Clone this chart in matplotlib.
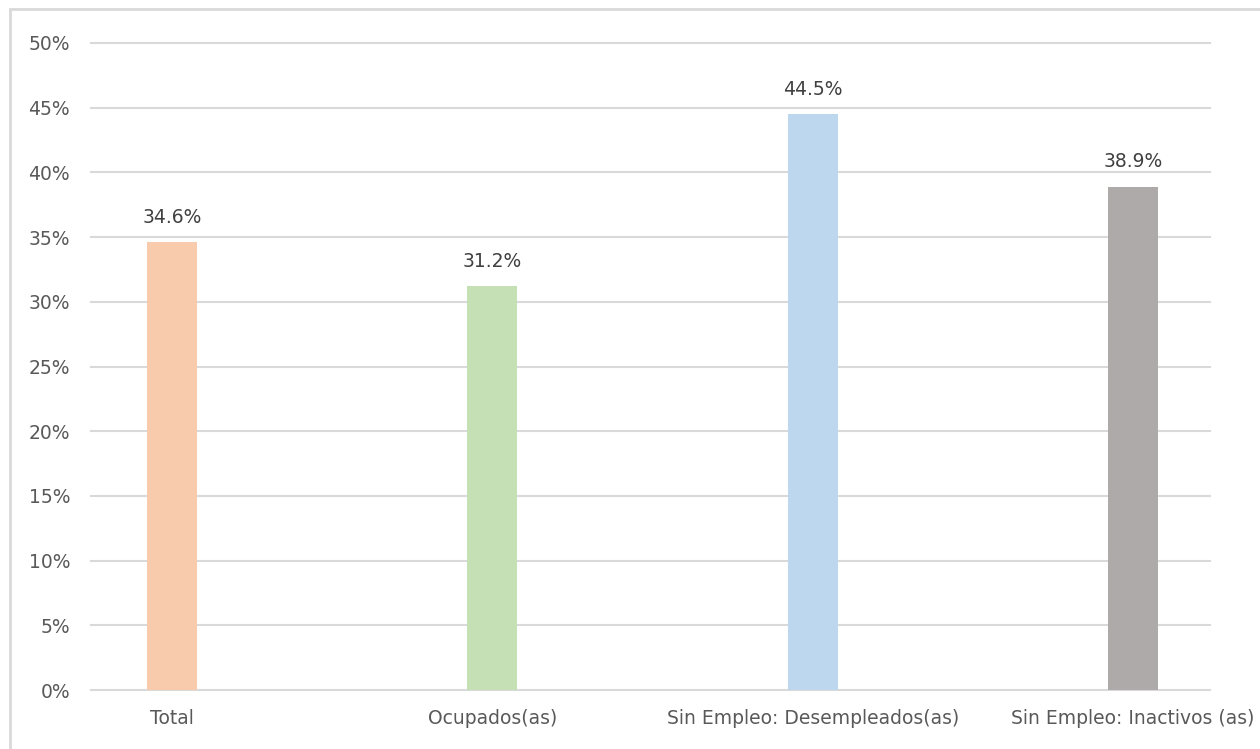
import matplotlib
matplotlib.use("Agg")
import matplotlib.pyplot as plt
from matplotlib.patches import Rectangle

categories = ["Total", "Ocupados(as)", "Sin Empleo: Desempleados(as)", "Sin Empleo: Inactivos (as)"]
values = [34.6, 31.2, 44.5, 38.9]
colors = ["#F8CBAD", "#C5E0B4", "#BDD7EE", "#AEAAAA"]
yticks = [0, 5, 10, 15, 20, 25, 30, 35, 40, 45, 50]

W, H = 1260, 749
fig = plt.figure(figsize=(W / 100, H / 100), dpi=100)
ax = fig.add_axes([91 / W, 1 - 690 / H, (1210 - 91) / W, (690 - 43) / H])

x = list(range(len(categories)))
ax.bar(x, values, width=0.156, color=colors, zorder=3)

for xi, v in zip(x, values):
    ax.annotate(f"{v:.1f}%", (xi, v), xytext=(0, 11), textcoords="offset points",
                ha="center", va="bottom", fontsize=13.5, color="#404040")

ax.set_ylim(0, 50)
ax.set_xlim(-0.253, 3.24)
ax.set_yticks(yticks)
ax.set_yticklabels([f"{t}%" for t in yticks], fontsize=13.5, color="#595959")
ax.set_xticks(x)
ax.set_xticklabels(categories, fontsize=13.5, color="#595959")
ax.tick_params(axis="both", length=0)
ax.tick_params(axis="y", pad=15)
ax.tick_params(axis="x", pad=14)
ax.yaxis.grid(True, color="#D9D9D9", linewidth=1.5, zorder=0)
for gl in ax.yaxis.get_gridlines():
    gl.set_clip_on(False)
ax.set_axisbelow(True)
for s in ax.spines.values():
    s.set_visible(False)

fig.patches.append(Rectangle((10 / W, -0.1), 1.2, (1 - 9 / H) + 0.1, transform=fig.transFigure,
                             fill=False, edgecolor="#D9D9D9", linewidth=2))

fig.savefig("out.png", dpi=100)
